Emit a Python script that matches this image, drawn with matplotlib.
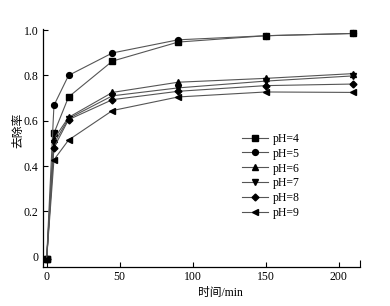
import matplotlib
matplotlib.use("Agg")
import matplotlib.pyplot as plt

plt.rcParams['font.family'] = ['Liberation Serif', 'Noto Sans CJK SC']

time = [0, 5, 15, 45, 90, 150, 210]
labels = ["pH=4", "pH=5", "pH=6", "pH=7", "pH=8", "pH=9"]
ph4 = [-0.01, 0.545, 0.705, 0.863, 0.947, 0.975, 0.985]
ph5 = [-0.01, 0.668, 0.800, 0.899, 0.957, 0.975, 0.985]
ph6 = [-0.01, 0.520, 0.615, 0.725, 0.770, 0.787, 0.808]
ph7 = [-0.01, 0.500, 0.610, 0.710, 0.745, 0.775, 0.798]
ph8 = [-0.01, 0.482, 0.605, 0.693, 0.730, 0.755, 0.762]
ph9 = [-0.01, 0.428, 0.515, 0.645, 0.705, 0.727, 0.725]
series = [ph4, ph5, ph6, ph7, ph8, ph9]
markers = ['s', 'o', '^', 'v', 'D', '<']
msizes = [3.8, 4.2, 4.2, 4.2, 3.5, 4.2]

fig = plt.figure(figsize=(3.9, 3.06), dpi=100)
ax = fig.add_axes([0.1095, 0.128, 0.8135, 0.776])

for vals, m, ms, lab in zip(series, markers, msizes, labels):
    ax.plot(time, vals, color='#555555', lw=0.8, marker=m, ms=ms,
            mfc='black', mec='black', label=lab)

ax.set_xlim(-2.7, 214.5)
ax.set_ylim(-0.044, 1.003)
ax.set_xticks([0, 50, 100, 150, 200])
ax.set_xticks([214.5], minor=True)
ax.set_yticks([0, 0.2, 0.4, 0.6, 0.8, 1.0])
ax.set_yticklabels(['0', '0.2', '0.4', '0.6', '0.8', '1.0'])
ax.tick_params(direction='in', length=3.5, width=0.8, labelsize=8.5, pad=3)
ax.tick_params(axis='x', which='minor', direction='in', length=5, width=0.8)
for s in ['top', 'right']:
    ax.spines[s].set_visible(False)
for s in ['left', 'bottom']:
    ax.spines[s].set_linewidth(0.9)

ax.set_xlabel('时间/min', fontsize=8.5)
ax.xaxis.set_label_coords(0.56, -0.085)
ax.set_ylabel('去除率', fontsize=8.5)
ax.yaxis.set_label_coords(-0.058, 0.573)

ax.legend(loc='upper left', bbox_to_anchor=(0.61, 0.59), frameon=False,
          fontsize=8.5, handlelength=2.2, handletextpad=0.4,
          labelspacing=0.25, borderpad=0)

fig.savefig('out.png', dpi=100)
